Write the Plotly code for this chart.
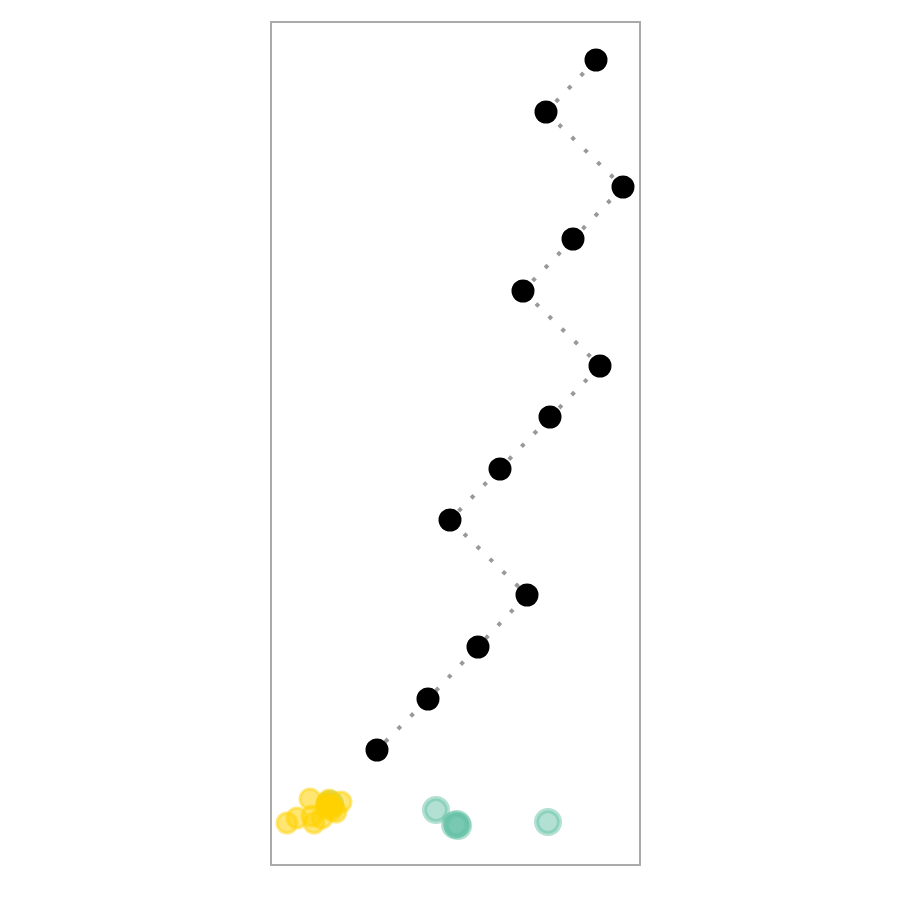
import plotly.graph_objects as go

# Main series (black dots joined by dotted line)
main_x = [324, 274, 351, 301, 251, 328, 278, 228, 178, 255, 206, 156, 105]
main_y = [804, 752, 677, 625, 573, 498, 447, 395, 344, 269, 217, 165, 114]

# Green group
green_x = [58, 164, 183, 186, 185, 276]
green_y = [60, 54, 39, 38, 40, 42]

# Yellow group
yellow_x = [15, 25, 38, 42, 50, 55, 56, 58, 60, 69, 64, 40, 57, 61, 54]
yellow_y = [41, 46, 65, 41, 46, 61, 59, 57, 54, 62, 52, 48, 64, 58, 56]

fig = go.Figure()
fig.add_trace(go.Scatter(
    x=green_x, y=green_y, mode="markers",
    marker=dict(size=23, color="rgba(102,194,165,0.5)",
                line=dict(width=5, color="rgba(102,194,165,0.5)")),
    showlegend=False, hoverinfo="skip"))
fig.add_trace(go.Scatter(
    x=yellow_x, y=yellow_y, mode="markers",
    marker=dict(size=20, color="rgba(255,210,0,0.55)",
                line=dict(width=3, color="rgba(255,210,0,0.5)")),
    showlegend=False, hoverinfo="skip"))
fig.add_trace(go.Scatter(
    x=main_x, y=main_y, mode="lines+markers",
    line=dict(color="#999999", width=4, dash="4px,14px"),
    marker=dict(size=23, color="black", line=dict(width=0)),
    showlegend=False))

fig.update_layout(
    width=900, height=900,
    margin=dict(l=272, r=261, t=23, b=36),
    plot_bgcolor="white", paper_bgcolor="white",
)
fig.update_xaxes(range=[0, 367], showgrid=False, zeroline=False,
                 showticklabels=False, ticks="",
                 showline=True, mirror=True, linecolor="#aaaaaa", linewidth=2)
fig.update_yaxes(range=[0, 841], showgrid=False, zeroline=False,
                 showticklabels=False, ticks="",
                 showline=True, mirror=True, linecolor="#aaaaaa", linewidth=2)

fig.write_html("out.html")
